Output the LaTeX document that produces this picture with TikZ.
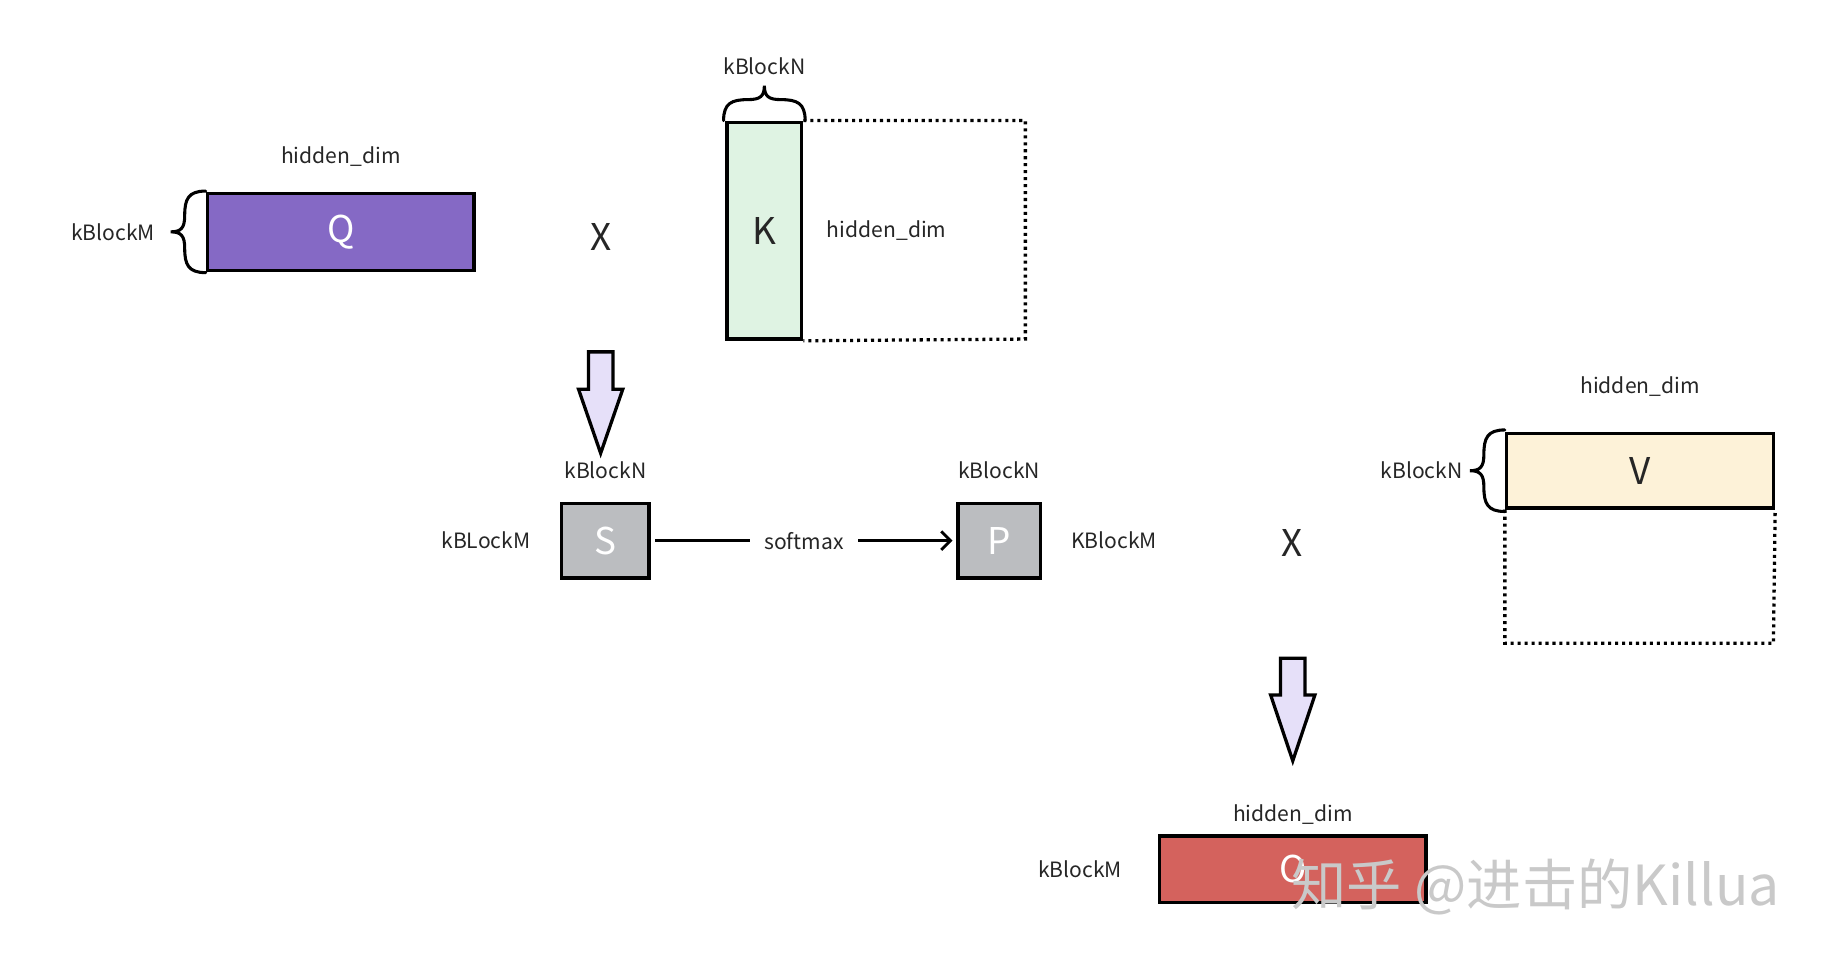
\documentclass[tikz,border=0pt]{standalone}
\usepackage{fontspec}
\setmainfont{Noto Sans CJK SC}
\usetikzlibrary{positioning, arrows.meta}

\definecolor{qpurple}{HTML}{8569C5}
\definecolor{kgreen}{HTML}{DFF3E3}
\definecolor{sgray}{HTML}{BBBDC0}
\definecolor{vyellow}{HTML}{FDF2D8}
\definecolor{ored}{HTML}{D4625D}
\definecolor{arrowfill}{HTML}{E6E0F9}
\definecolor{textgray}{HTML}{262626}
\definecolor{wmgray}{HTML}{C9C9C9}

\tikzset{
    mat/.style={draw=black, line width=1.7pt, inner sep=0pt,
        font=\fontsize{18}{18}\selectfont},
    lbl/.style={text=textgray, font=\fontsize{10.3}{12}\selectfont},
    opx/.style={text=textgray, font=\fontsize{18}{18}\selectfont},
    dotbox/.style={line width=1.6pt, dash pattern=on 1.5pt off 1.9pt},
    fat arrow/.style={draw=black, line width=1.6pt, fill=arrowfill, line join=miter},
    curly/.pic={
        \draw [line width=1.5pt, line cap=round]
            (-0.7,0) .. controls (-0.7,0.3) and (-0.56,0.36) .. (-0.28,0.36)
            .. controls (-0.07,0.36) and (0,0.42) .. (0,0.6)
            .. controls (0,0.42) and (0.07,0.36) .. (0.28,0.36)
            .. controls (0.56,0.36) and (0.7,0.3) .. (0.7,0);
    }
}

\begin{document}
\begin{tikzpicture} [node distance = 1cm,
            on grid,
            >={Straight Barb[length=1.6mm, width=3.2mm]}]

        \useasboundingbox [fill=white] (0,0) rectangle (31.36,16.52);

        % Matrix Q
        \node (Q) [mat, fill=qpurple, text=white,
            minimum width=4.58cm, minimum height=1.32cm] at (5.85,12.54) {Q};
        \node (qdim) [lbl, above=1.3cm of Q] {hidden\_dim};
        \pic [rotate=90] at (Q.west) {curly};
        \node (qrows) [lbl, left=3.91cm of Q] {kBlockM};

        % times
        \node (x1) [opx] at (10.31,12.46) {X};

        % Matrix K
        \node (K) [mat, fill=kgreen, text=textgray,
            minimum width=1.28cm, minimum height=3.72cm] at (13.12,12.56) {K};
        \pic at (K.north) {curly};
        \node (kcols) [lbl, above=2.82cm of K] {kBlockN};
        \node (kdim) [lbl, right=2.1cm of K] {hidden\_dim};
        \coordinate (kend) at (17.6,10.7);
        \draw [dotbox] (K.north east) -| (kend) -- (K.south east);

        % Arrow Q x K -> S
        \coordinate (a1) at (10.31,10.48);
        \draw [fat arrow] (a1) ++(-0.21,0) -- ++(0,-0.64) -- ++(-0.17,0)
            -- ++(0.38,-1.1) -- ++(0.38,1.1) -- ++(-0.17,0) -- ++(0,0.64) -- cycle;

        % Matrix S
        \node (S) [mat, fill=sgray, text=white,
            minimum width=1.5cm, minimum height=1.28cm] at (10.39,7.24) {S};
        \node (scols) [lbl, above=1.21cm of S] {kBlockN};
        \node (srows) [lbl, left=2.05cm of S] {kBLockM};

        % Matrix P
        \node (P) [mat, fill=sgray, text=white,
            minimum width=1.42cm, minimum height=1.28cm] at (17.15,7.24) {P};
        \node (pcols) [lbl, above=1.21cm of P] {kBlockN};
        \node (prows) [lbl, right=1.97cm of P] {KBlockM};

        % softmax
        \node (sm) [lbl, inner xsep=0.24cm] at (13.8,7.24) {softmax};
        \draw [line width=1.4pt, shorten <=0.08cm] (S) -- (sm);
        \draw [->, line width=1.4pt, shorten >=0.06cm] (sm) -- (P);

        % times
        \node (x2) [opx] at (22.18,7.2) {X};

        % Matrix V
        \node (V) [mat, fill=vyellow, text=textgray,
            minimum width=4.58cm, minimum height=1.28cm] at (28.15,8.44) {V};
        \node (vdim) [lbl, above=1.44cm of V] {hidden\_dim};
        \pic [rotate=90] at (V.west) {curly};
        \node (vrows) [lbl, left=3.75cm of V] {kBlockN};
        \coordinate (vend) at (30.44,5.48);
        \draw [dotbox] (V.south west) |- (vend) -- (V.south east);

        % Arrow P x V -> O
        \coordinate (a2) at (22.19,5.22);
        \draw [fat arrow] (a2) ++(-0.21,0) -- ++(0,-0.63) -- ++(-0.17,0)
            -- ++(0.38,-1.13) -- ++(0.38,1.13) -- ++(-0.17,0) -- ++(0,0.63) -- cycle;

        % Matrix O
        \node (O) [mat, fill=ored, text=white,
            minimum width=4.58cm, minimum height=1.14cm] at (22.19,1.6) {O};
        \node (odim) [lbl, above=0.94cm of O] {hidden\_dim};
        \node (orows) [lbl, left=3.65cm of O] {kBlockM};

        % watermark
        \node (wm) [text=wmgray, font=\fontsize{27}{27}\selectfont]
            at (26.36,1.3) {知乎 @进击的Killua};
\end{tikzpicture}
\end{document}
